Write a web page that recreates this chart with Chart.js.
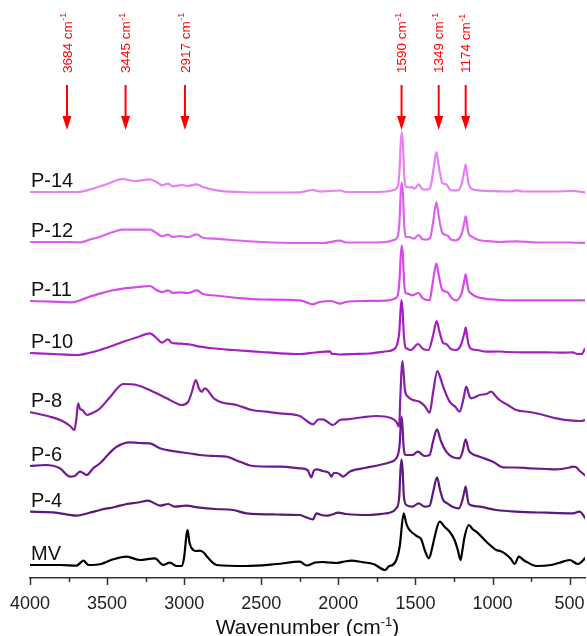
<!DOCTYPE html>
<html>
<head>
<meta charset="utf-8">
<title>FTIR spectra</title>
<script src="https://cdn.jsdelivr.net/npm/chart.js@4.4.0/dist/chart.umd.min.js"></script>
<style>
    html, body { margin: 0; padding: 0; background: #fff; }
    #wrap { width: 587px; height: 636px; position: relative; }
</style>
</head>
<body>
<div id="wrap"><canvas id="ftirChart"></canvas></div>
<script>
// sample names, top curve first
const sampleNames = ['P-14', 'P-12', 'P-11', 'P-10', 'P-8', 'P-6', 'P-4', 'MV'];

// vertical stacking shift of each curve (a.u.)
const stackOffsets = [386, 336, 277, 225, 166, 112, 66, 13];

// x axis tick values (cm-1)
const tickValues = [500, 750, 1000, 1250, 1500, 1750, 2000, 2250, 2500, 2750, 3000, 3250, 3500, 3750, 4000];

// marked bands: label text and where the arrow sits on the axis
const bandLabels = ['3684', '3445', '2917', '1590', '1349', '1174'];
const bandArrowAt = [3760, 3380, 2995, 1590, 1349, 1174];

// spectra: [wavenumber, relative absorbance]
const p14Data = [[4000,0],[3800,0],[3690,0],[3600,3],[3500,8],[3400,13],[3320,11],[3222,12.7],[3170,9],[3144,6.7],[3105,8.3],[3073,5.7],[3015,7],[2976,6],[2918,7.7],[2879,5],[2789,1.7],[2640,0],[2450,-0.5],[2250,-0.3],[2166,2],[2120,0.5],[1990,1.5],[1950,0],[1800,0],[1690,0.5],[1640,2],[1614,6],[1603,22],[1595,50],[1588,60],[1581,48],[1573,18],[1564,6],[1545,4.5],[1527,5],[1505,3.5],[1479,7.7],[1455,3],[1429,2.4],[1405,4],[1385,20],[1364,40],[1348,25],[1325,9],[1300,7.7],[1280,3],[1267,1.7],[1226,1.7],[1200,8],[1182,22],[1174,27.4],[1166,20],[1156,9],[1137,3.4],[1094,1.7],[954,0.7],[880,0.5],[846,1.7],[800,0.5],[600,0.5],[481,1],[393,-0.6]];
const p12Data = [[4000,0],[3800,0],[3676,-0.3],[3600,3],[3546,5.3],[3450,10.5],[3397,12.3],[3300,12.3],[3222,12.3],[3180,9],[3144,5.6],[3105,7.3],[3073,5],[3030,6],[2976,5],[2918,7.7],[2879,4.3],[2800,3.3],[2650,1.5],[2500,0],[2250,-1],[2100,-1],[1990,1.3],[1950,-0.5],[1800,-0.5],[1690,0],[1640,2],[1614,6],[1603,22],[1595,50],[1588,59.6],[1581,48],[1573,18],[1564,5],[1540,5],[1510,3.3],[1479,7],[1455,3],[1429,2.3],[1405,4],[1385,20],[1364,39.6],[1348,25],[1325,9],[1293,6.6],[1270,2.5],[1240,1.6],[1200,8],[1182,20],[1174,25.6],[1166,19],[1156,9],[1137,5.6],[1094,2.3],[1000,0.5],[954,0],[846,0.6],[700,-0.5],[500,-0.5],[393,-1]];
const p11Data = [[4000,0],[3850,-0.7],[3730,-1.3],[3680,0.5],[3620,4],[3546,7.4],[3470,10.5],[3397,12.4],[3300,14],[3222,15],[3180,11],[3144,9],[3105,10.7],[3073,8],[3030,8.7],[2976,8],[2918,10.7],[2879,7],[2800,5.5],[2650,3],[2500,1.5],[2250,0.7],[2166,-3.3],[2120,-1],[2050,0],[1990,-2.7],[1950,-1],[1850,0],[1690,0.3],[1640,2],[1614,6],[1603,22],[1595,46],[1588,55.7],[1581,45],[1573,18],[1564,8],[1550,7.4],[1520,5.7],[1479,8],[1455,3],[1408,0.7],[1388,18],[1364,37.4],[1348,25],[1325,11],[1293,9],[1265,3],[1235,0.7],[1200,8],[1182,21],[1174,26.7],[1166,20],[1156,11],[1137,7.4],[1100,4],[1050,2.4],[950,1],[870,0.7],[600,0.7],[393,0.7]];
const p10Data = [[4000,0],[3850,-1],[3695,-2],[3620,0],[3546,3],[3470,7],[3395,11.3],[3300,16],[3222,19.7],[3180,15],[3144,10.3],[3105,13.7],[3080,10],[3050,9.7],[3000,9],[2960,8.5],[2898,6.3],[2800,4.5],[2683,3],[2500,1],[2380,-0.3],[2250,-1],[2150,0.5],[2056,1.7],[2040,-1],[2020,-1],[1990,-1.5],[1900,-1],[1800,-0.5],[1700,1.5],[1645,3.3],[1620,8],[1604,22],[1596,44],[1590,53],[1583,42],[1575,18],[1566,6],[1559,4.7],[1530,3],[1483,9],[1450,4],[1415,3],[1385,18],[1362,32],[1345,22],[1320,10],[1300,9],[1270,4],[1235,3],[1205,8],[1182,20],[1174,25.3],[1166,18],[1156,9],[1143,4.7],[1100,3],[1040,1.3],[960,1.5],[900,1],[800,0.7],[650,0.7],[540,0.3],[480,0.7],[450,-1],[420,-1],[400,4.7]];
const p8Data = [[4000,0],[3870,-4.7],[3790,-9],[3740,-14],[3712,-18],[3700,-8],[3688,8.7],[3675,3],[3660,2],[3645,-1],[3630,-3],[3600,-1.3],[3550,3],[3480,15],[3395,28],[3309,27],[3201,20.3],[3114,13.7],[3040,8],[3017,7],[2975,10],[2950,20],[2925,32],[2905,24],[2888,20.3],[2865,23.7],[2849,22],[2810,14],[2769,10.3],[2660,7],[2560,2],[2466,0.3],[2380,-1.3],[2250,-4],[2164,-12.3],[2130,-7.5],[2101,-7.3],[2035,-13],[1990,-8],[1948,-7.3],[1850,-5.5],[1753,-4],[1660,-6],[1624,-9.7],[1606,-14.7],[1598,14],[1590,42],[1584,51],[1577,40],[1568,22],[1548,15.3],[1516,12],[1473,10.3],[1440,6],[1408,-0.7],[1385,20],[1358,41],[1340,35],[1320,25.3],[1278,10.3],[1240,5],[1213,0.3],[1190,12],[1170,25.3],[1150,16],[1137,13.7],[1110,15],[1084,17],[1040,18],[1008,20.3],[980,16],[954,12],[900,7],[846,2],[760,0],[695,-2],[586,-6.3],[479,-8.7],[430,-9],[393,-8]];
const p6Data = [[4000,0],[3900,1],[3806,-2.3],[3741,-10.7],[3710,-10],[3676,-5.7],[3655,-7],[3633,-9],[3590,-2.3],[3546,2.7],[3490,12],[3438,19.3],[3352,23.7],[3290,23],[3222,22.7],[3157,17.7],[3049,14.3],[2960,12.5],[2898,11],[2800,10],[2726,9.3],[2639,4.3],[2553,0],[2380,-0.7],[2250,-2.3],[2200,-4],[2175,-11.3],[2160,-5],[2142,-3.3],[2100,-5],[2060,-7],[2045,-10.7],[2030,-7],[2010,-7],[1985,-9],[1970,-10.7],[1927,-5.7],[1830,-2],[1732,1],[1660,4],[1634,6],[1612,12],[1602,22],[1595,42],[1590,49.3],[1584,40],[1576,18],[1563,11],[1520,11],[1484,14.3],[1440,10],[1408,11],[1385,25],[1360,36.7],[1335,25],[1300,14.3],[1257,8.7],[1213,7.7],[1195,14],[1174,26.7],[1155,16],[1137,12.7],[1084,9.3],[997,4.3],[932,-1.3],[850,-1.5],[760,-2.3],[650,-3],[586,-3.3],[500,-1.5],[479,-0.7],[460,-1],[436,-4.7],[393,-10]];
const p4Data = [[4000,0.3],[3850,-0.3],[3698,-3.7],[3620,-1],[3546,2],[3450,5],[3373,8],[3300,9.5],[3233,11.3],[3190,8.5],[3157,6.3],[3103,8],[3060,5.3],[2990,6.3],[2898,4.3],[2800,3],[2683,2],[2596,-1.3],[2400,-2.5],[2250,-3],[2218,-4.7],[2164,-7.3],[2142,-1.3],[2110,-3],[2080,-3.7],[2040,-2.5],[2002,-0.7],[1950,-2],[1800,-3],[1700,-1.5],[1667,-0.7],[1624,3.7],[1605,15],[1597,42],[1590,52.7],[1583,42],[1575,16],[1559,7],[1520,5.3],[1479,8.7],[1440,5.3],[1408,6.3],[1385,20],[1360,34.7],[1340,22],[1320,12],[1293,8.7],[1260,5.3],[1218,3.7],[1195,12],[1182,21],[1174,25.3],[1166,18],[1158,10],[1143,7],[1084,5.3],[975,2],[846,0.3],[651,-0.7],[479,-1.3],[436,0.3],[393,-7.3]];
const mvData = [[4000,0],[3800,0],[3698,-0.7],[3675,2],[3654,4.3],[3630,1],[3620,0],[3540,1],[3460,5.7],[3373,8.3],[3287,5],[3190,6.7],[3136,0],[3093,2.3],[3049,-1],[3017,-1],[3000,8],[2985,30],[2978,35],[2965,22],[2942,15],[2920,14],[2898,14.3],[2870,12],[2850,8],[2790,0],[2600,-1],[2400,1],[2250,3.3],[2205,-0.5],[2150,2.5],[2100,3],[2060,2.5],[2010,2],[1960,3.5],[1914,4.4],[1850,3],[1768,0.7],[1696,-5],[1670,-1],[1648,0],[1624,5],[1602,18.3],[1576,51.7],[1560,42],[1546,36.7],[1516,31.7],[1484,28.3],[1462,25.7],[1440,15],[1412,6.7],[1390,18],[1375,28.3],[1343,43.3],[1311,38.3],[1278,33.3],[1246,25],[1225,15],[1207,5],[1195,15],[1181,28.3],[1153,40],[1130,36],[1105,33.3],[1040,23.3],[975,15],[950,14],[921,11.7],[880,6],[857,1],[829,8.3],[800,5],[781,3.3],[716,-1],[620,0],[565,2.3],[500,5],[446,1],[393,7.7]];

const spectra = [p14Data, p12Data, p11Data, p10Data, p8Data, p6Data, p4Data, mvData];
const lineColors = ['#e87ff2', '#dc62ee', '#d54ae8', '#a51fc2', '#8520a6', '#6d1a8e', '#5a1a7a', '#000000'];

const SpectraChart = {
    chart: null,

    /**
     * build one dataset per sample, shifted by its stack offset
     */
    buildDatasets: function() {
        return spectra.map((rows, i) => ({
            label: sampleNames[i],
            data: rows.map(r => ({ x: r[0], y: r[1] + stackOffsets[i] })),
            borderColor: lineColors[i],
            borderWidth: 2.2,
            pointRadius: 0,
            fill: false,
            cubicInterpolationMode: 'monotone'
        }));
    },

    /**
     * sample names, arrows, minor ticks and axis title
     */
    overlay: {
        id: 'overlay',
        afterDraw: function(chart) {
            const ctx = chart.ctx;
            const xs = chart.scales.x;
            const ys = chart.scales.y;
            const area = chart.chartArea;
            ctx.save();

            // tick marks
            ctx.strokeStyle = '#333';
            ctx.lineWidth = 1.5;
            tickValues.forEach(v => {
                const px = Math.round(xs.getPixelForValue(v)) + 0.5;
                const len = v % 500 === 0 ? 7 : 4;
                ctx.beginPath();
                ctx.moveTo(px, area.bottom);
                ctx.lineTo(px, area.bottom + len);
                ctx.stroke();
            });

            // sample names
            ctx.fillStyle = '#111';
            ctx.font = '20px "Liberation Sans", Arial, sans-serif';
            ctx.textAlign = 'left';
            ctx.textBaseline = 'alphabetic';
            sampleNames.forEach((name, i) => {
                ctx.fillText(name, area.left + 1, ys.getPixelForValue(stackOffsets[i]) - 5);
            });

            // band arrows and rotated labels
            ctx.fillStyle = '#ff0000';
            ctx.strokeStyle = '#ff0000';
            bandArrowAt.forEach((wn, i) => {
                const px = xs.getPixelForValue(wn);
                ctx.lineWidth = 2;
                ctx.beginPath();
                ctx.moveTo(px, 85);
                ctx.lineTo(px, 118);
                ctx.stroke();
                ctx.beginPath();
                ctx.moveTo(px - 4.5, 116);
                ctx.lineTo(px + 4.5, 116);
                ctx.lineTo(px, 130);
                ctx.closePath();
                ctx.fill();

                ctx.save();
                ctx.translate(px, 73);
                ctx.rotate(-Math.PI / 2);
                ctx.textBaseline = 'middle';
                ctx.font = '13.5px "Liberation Sans", Arial, sans-serif';
                const main = bandLabels[i] + ' cm';
                ctx.fillText(main, 0, 1);
                const w = ctx.measureText(main).width;
                ctx.font = '9px "Liberation Sans", Arial, sans-serif';
                ctx.fillText('-1', w + 0.5, -3);
                ctx.restore();
            });

            // x axis title with superscript
            ctx.fillStyle = '#111';
            ctx.textBaseline = 'alphabetic';
            const bigFont = '21px "Liberation Sans", Arial, sans-serif';
            const supFont = '13px "Liberation Sans", Arial, sans-serif';
            ctx.font = bigFont;
            const partA = 'Wavenumber (cm';
            const wA = ctx.measureText(partA).width;
            const wC = ctx.measureText(')').width;
            ctx.font = supFont;
            const wB = ctx.measureText('-1').width;
            let tx = (area.left + area.right) / 2 - (wA + wB + wC) / 2;
            const ty = 634;
            ctx.font = bigFont;
            ctx.fillText(partA, tx, ty);
            ctx.font = supFont;
            ctx.fillText('-1', tx + wA, ty - 8);
            ctx.font = bigFont;
            ctx.fillText(')', tx + wA + wB, ty);

            ctx.restore();
        }
    },

    init: function() {
        const ctx = document.getElementById('ftirChart').getContext('2d');

        this.chart = new Chart(ctx, {
            type: 'line',
            data: { datasets: this.buildDatasets() },
            options: {
                responsive: true,
                maintainAspectRatio: false,
                animation: false,
                layout: { padding: { left: 30, right: 2, top: 0, bottom: 0 } },
                plugins: {
                    legend: { display: false },
                    tooltip: { enabled: false }
                },
                scales: {
                    x: {
                        type: 'linear',
                        reverse: true,
                        min: 400,
                        max: 4000,
                        afterBuildTicks: function(scale) {
                            scale.ticks = tickValues.map(v => ({ value: v }));
                        },
                        afterFit: function(scale) {
                            scale.height = 58;
                        },
                        grid: { display: false, drawTicks: false },
                        border: { display: true, color: '#333', width: 1.5 },
                        ticks: {
                            autoSkip: false,
                            maxRotation: 0,
                            padding: 15,
                            color: '#222',
                            font: { family: '"Liberation Sans", Arial, sans-serif', size: 18 },
                            callback: function(value) {
                                return value % 500 === 0 ? String(value) : '';
                            }
                        }
                    },
                    y: {
                        display: false,
                        min: 0,
                        max: 578
                    }
                }
            },
            plugins: [this.overlay]
        });
    }
};

SpectraChart.init();
</script>
</body>
</html>
